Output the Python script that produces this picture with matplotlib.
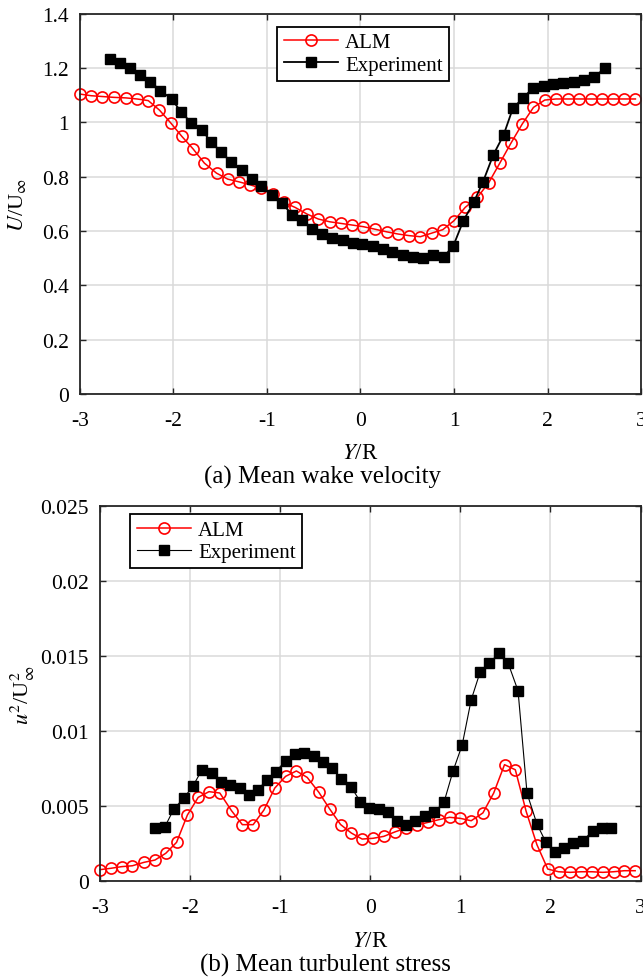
"""Wake profiles behind the rotor: ALM against the measurements.

Two stacked panels: (a) mean streamwise velocity, (b) mean turbulent stress.
"""
import matplotlib

matplotlib.use("Agg")
import matplotlib.pyplot as plt
from matplotlib.ticker import FuncFormatter, MultipleLocator


plt.rcParams["font.family"] = ["Liberation Serif", "DejaVu Serif"]
plt.rcParams["mathtext.fontset"] = "stix"
plt.rcParams["axes.unicode_minus"] = False
plt.rcParams["font.size"] = 15


# ALM sampling line (same stations for both quantities)
alm_y = [
    -3.00, -2.88, -2.76, -2.64, -2.51, -2.39, -2.27, -2.15, -2.03, -1.91,
    -1.79, -1.67, -1.54, -1.42, -1.30, -1.18, -1.06, -0.94, -0.82, -0.70,
    -0.57, -0.45, -0.33, -0.21, -0.09, 0.03, 0.15, 0.28, 0.40, 0.52,
    0.64, 0.76, 0.88, 1.00, 1.12, 1.25, 1.37, 1.49, 1.61, 1.73,
    1.85, 1.97, 2.09, 2.22, 2.34, 2.46, 2.58, 2.70, 2.82, 2.94,
]
alm_u = [
    1.104, 1.098, 1.095, 1.092, 1.090, 1.086, 1.080, 1.045, 0.998, 0.948,
    0.902, 0.850, 0.813, 0.791, 0.781, 0.770, 0.757, 0.736, 0.705, 0.687,
    0.662, 0.644, 0.634, 0.628, 0.622, 0.616, 0.607, 0.597, 0.589, 0.583,
    0.579, 0.592, 0.605, 0.638, 0.687, 0.724, 0.777, 0.850, 0.924, 0.994,
    1.055, 1.082, 1.086, 1.086, 1.086, 1.086, 1.086, 1.086, 1.086, 1.086,
]
alm_uu = [
    0.00078, 0.00087, 0.00098, 0.00104, 0.00127, 0.00142, 0.00187, 0.00260, 0.00442, 0.00560,
    0.00598, 0.00589, 0.00471, 0.00378, 0.00378, 0.00476, 0.00622, 0.00700, 0.00736, 0.00693,
    0.00593, 0.00482, 0.00379, 0.00322, 0.00282, 0.00287, 0.00300, 0.00331, 0.00356, 0.00376,
    0.00393, 0.00411, 0.00427, 0.00420, 0.00404, 0.00456, 0.00589, 0.00778, 0.00744, 0.00467,
    0.00244, 0.00082, 0.00064, 0.00060, 0.00064, 0.00064, 0.00060, 0.00064, 0.00071, 0.00071,
]

# Measured velocity profile
exp_y_u = [
    -2.68, -2.57, -2.46, -2.36, -2.25, -2.14, -2.02, -1.92, -1.81, -1.70,
    -1.60, -1.49, -1.38, -1.27, -1.16, -1.06, -0.95, -0.84, -0.73, -0.63,
    -0.52, -0.41, -0.30, -0.19, -0.08, 0.02, 0.13, 0.24, 0.34, 0.45,
    0.56, 0.67, 0.78, 0.89, 0.99, 1.10, 1.21, 1.31, 1.42, 1.53,
    1.63, 1.74, 1.84, 1.96, 2.06, 2.17, 2.28, 2.39, 2.50, 2.61,
]
exp_u = [
    1.233, 1.217, 1.200, 1.176, 1.150, 1.117, 1.086, 1.039, 0.998, 0.973,
    0.929, 0.890, 0.853, 0.824, 0.791, 0.767, 0.732, 0.702, 0.660, 0.641,
    0.609, 0.589, 0.576, 0.567, 0.555, 0.552, 0.543, 0.533, 0.524, 0.511,
    0.503, 0.499, 0.511, 0.506, 0.543, 0.638, 0.705, 0.781, 0.880, 0.953,
    1.052, 1.090, 1.125, 1.135, 1.141, 1.144, 1.150, 1.156, 1.166, 1.199,
]

# Measured turbulent stress profile
exp_y_uu = [
    -2.39, -2.28, -2.18, -2.07, -1.97, -1.87, -1.76, -1.66, -1.56, -1.45,
    -1.35, -1.25, -1.15, -1.05, -0.94, -0.84, -0.74, -0.63, -0.53, -0.42,
    -0.32, -0.21, -0.11, -0.01, 0.10, 0.20, 0.30, 0.40, 0.50, 0.61,
    0.71, 0.82, 0.92, 1.02, 1.12, 1.22, 1.32, 1.43, 1.53, 1.64,
    1.74, 1.85, 1.95, 2.05, 2.15, 2.25, 2.36, 2.47, 2.57, 2.67,
]
exp_uu = [
    0.00356, 0.00364, 0.00482, 0.00556, 0.00633, 0.00742, 0.00722, 0.00660, 0.00642, 0.00620,
    0.00578, 0.00609, 0.00676, 0.00731, 0.00804, 0.00849, 0.00853, 0.00833, 0.00798, 0.00753,
    0.00685, 0.00627, 0.00531, 0.00487, 0.00482, 0.00460, 0.00400, 0.00378, 0.00404, 0.00438,
    0.00460, 0.00531, 0.00738, 0.00909, 0.01210, 0.01397, 0.01455, 0.01522, 0.01455, 0.01271,
    0.00587, 0.00382, 0.00260, 0.00198, 0.00222, 0.00253, 0.00271, 0.00338, 0.00356, 0.00356,
]

x_ticks = [-3, -2, -1, 0, 1, 2, 3]

AXIS_COLOR = "#262626"
GRID_COLOR = "#dadada"
TICK_SIZE = 15.5


def style_axes(ax):
    for spine in ax.spines.values():
        spine.set_linewidth(1.3)
        spine.set_color(AXIS_COLOR)
    ax.tick_params(
        direction="in", top=True, right=True, length=4, width=1.0,
        color=AXIS_COLOR, labelsize=TICK_SIZE,
    )
    ax.tick_params(axis="x", pad=12)
    ax.tick_params(axis="y", pad=8)
    ax.grid(True, color=GRID_COLOR, linewidth=1.1)
    ax.set_axisbelow(True)
    ax.set_xlim(-3, 3)
    ax.set_xticks(x_ticks)
    ax.xaxis.set_major_formatter(FuncFormatter(lambda v, _: f"{v:g}"))
    ax.yaxis.set_major_formatter(FuncFormatter(lambda v, _: f"{v:g}"))
    ax.set_xlabel(r"$Y$/R", fontsize=16.5, labelpad=9)


def add_legend(ax, anchor):
    leg = ax.legend(
        loc="upper left", bbox_to_anchor=anchor, frameon=True, fancybox=False,
        edgecolor="black", framealpha=1, borderaxespad=0, borderpad=0.3,
        handlelength=2.6, handletextpad=0.35, labelspacing=0.12, fontsize=15,
    )
    leg.get_frame().set_linewidth(1.3)
    return leg


fig = plt.figure(figsize=(6.43, 9.78), dpi=100)

# (a) mean wake velocity
ax_u = fig.add_axes([0.1244, 0.5961, 0.8725, 0.3889])
style_axes(ax_u)
ax_u.plot(alm_y, alm_u, color="red", lw=1.1, marker="o", ms=8, mfc="none",
          mec="red", mew=1.2, clip_on=False, label="ALM")
ax_u.plot(exp_y_u, exp_u, color="black", lw=1.3, marker="s", ms=6.5,
          clip_on=False, label="Experiment")
ax_u.set_ylim(0, 1.4)
ax_u.yaxis.set_major_locator(MultipleLocator(0.2))
ax_u.set_ylabel(r"$U$/U$_{\infty}$", fontsize=16)
ax_u.yaxis.set_label_coords(-0.093, 0.5)
add_legend(ax_u, (0.352, 0.966))

# (b) mean turbulent stress
ax_s = fig.add_axes([0.1555, 0.0978, 0.8407, 0.3834])
style_axes(ax_s)
ax_s.plot(alm_y, alm_uu, color="red", lw=1.1, marker="o", ms=8, mfc="none",
          mec="red", mew=1.2, clip_on=False, label="ALM")
ax_s.plot(exp_y_uu, exp_uu, color="black", lw=0.8, marker="s", ms=6.5,
          clip_on=False, label="Experiment")
ax_s.set_ylim(0, 0.025)
ax_s.yaxis.set_major_locator(MultipleLocator(0.005))
ax_s.set_ylabel(r"$u^2$/U$^2_{\infty}$", fontsize=16)
ax_s.yaxis.set_label_coords(-0.116, 0.5)
add_legend(ax_s, (0.056, 0.979))

fig.text(322.5 / 643, 1 - 477 / 978, "(a) Mean wake velocity",
         ha="center", va="center", fontsize=18)
fig.text(325 / 643, 1 - 965 / 978, "(b) Mean turbulent stress",
         ha="center", va="center", fontsize=18)

fig.savefig("out.png", dpi=100)
plt.close(fig)
